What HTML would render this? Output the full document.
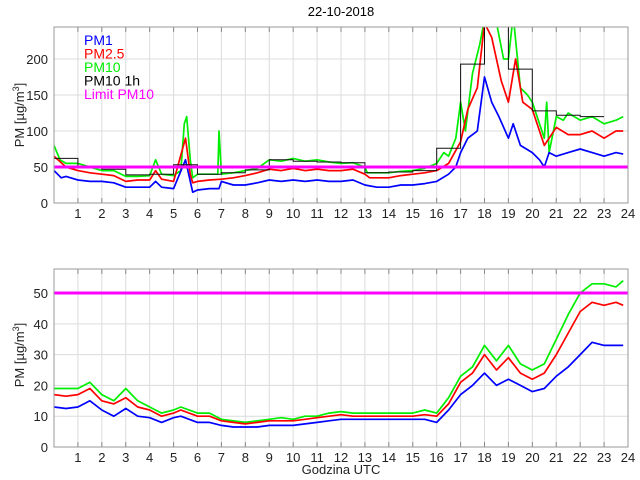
<!DOCTYPE html>
<html><head><meta charset="utf-8"><style>
body{margin:0;background:#fff}
svg{display:block;font-family:"Liberation Sans",sans-serif}
</style></head><body>
<svg id="c" width="640" height="480" viewBox="0 0 640 480"></svg>
<script>
// ---- data ----
const hourTicks=[1,2,3,4,5,6,7,8,9,10,11,12,13,14,15,16,17,18,19,20,21,22,23,24];
const topYTicks=[0,50,100,150,200];
const botYTicks=[0,10,20,30,40,50];
const limitPM10=50;
const pm10HourlyStart=[0,1,2,3,4,5,6,7,8,9,10,11,12,13,14,15,16,17,18,19,20,21,22];
const pm10Hourly=[62,49,47,39,40,53,40,42,46,60,58,57,56,42,43,45,76,193,260,186,128,122,120];
const topT10=[0,0.25,0.5,0.75,1,1.5,2,2.5,3,3.5,4,4.25,4.5,5,5.3,5.45,5.55,5.7,5.8,6,6.5,6.85,6.9,7,7.5,8,8.5,9,9.5,10,10.5,11,11.5,12,12.5,13,13.1,13.5,14,14.5,15,15.5,16,16.3,16.5,16.8,17,17.2,17.5,17.8,18,18.5,18.8,19,19.2,19.5,19.8,20,20.3,20.5,20.6,20.7,21,21.3,21.5,22,22.5,23,23.5,23.8];
const topPM10=[80,60,55,55,55,50,45,45,37,37,38,60,40,38,45,110,120,60,35,40,40,40,100,40,42,45,48,60,58,62,58,60,57,55,56,50,42,42,42,44,45,48,55,70,65,90,140,100,180,220,255,250,200,200,260,160,150,140,110,90,140,70,120,115,125,115,120,110,115,120];
const topT25=[0,0.5,1,1.5,2,2.5,3,3.5,4,4.25,4.5,5,5.5,5.7,5.8,6,6.5,7,7.5,8,8.5,9,9.5,10,10.5,11,11.5,12,12.5,13,13.2,13.5,14,14.5,15,15.5,16,16.5,17,17.3,17.7,18,18.3,18.7,19,19.3,19.6,20,20.3,20.5,20.7,21,21.5,22,22.5,23,23.5,23.8];
const topPM25=[65,50,45,42,40,38,30,32,32,45,33,30,90,40,28,30,32,33,35,38,42,47,45,48,45,47,45,45,47,40,35,35,35,38,40,42,45,55,85,130,160,250,230,170,140,200,140,130,100,80,90,105,95,95,100,90,100,100];
const topT1=[0,0.3,0.5,1,1.5,2,2.5,3,3.5,4,4.25,4.5,5,5.5,5.7,5.8,6,6.5,6.9,7,7.5,8,8.5,9,9.5,10,10.5,11,11.5,12,12.5,13,13.5,14,14.5,15,15.5,16,16.5,16.8,17,17.3,17.7,18,18.3,18.6,19,19.2,19.5,20,20.3,20.5,20.7,21,21.5,22,22.5,23,23.5,23.8];
const topPM1=[45,35,37,32,30,30,28,22,22,22,30,22,20,60,30,15,18,20,20,30,25,25,28,32,30,32,30,32,30,30,32,25,22,22,25,25,27,30,40,50,70,90,100,175,140,120,90,110,80,70,60,50,70,65,70,75,70,65,70,68];
const botT=[0,0.5,1,1.5,2,2.5,3,3.5,4,4.5,5,5.3,6,6.5,7,7.5,8,8.5,9,9.5,10,10.5,11,11.5,12,12.5,13,13.5,14,14.5,15,15.5,16,16.5,17,17.5,18,18.5,19,19.5,20,20.5,21,21.5,22,22.5,23,23.5,23.8];
const botPM10=[19,19,19,21,17,15,19,15,13,11,12,13,11,11,9,8.5,8,8.5,9,9.5,9,10,10,11,11.5,11,11,11,11,11,11,12,11,16,23,26,33,28,33,27,25,27,35,43,50,53,53,52,54];
const botPM25=[17,16.5,17,19,15,14,16,13,12,10,11,12,10,10,8.5,8,7.5,8,8.5,8.5,8.5,9,9.5,10,10.5,10,10,10,10,10,10,10.5,10,14,21,24,30,25,29,24,22,24,30,37,44,47,46,47,46];
const botPM1=[13,12.5,13,15,12,10,12.5,10,9.5,8,9.5,10,8,8,7,6.5,6.5,6.5,7,7,7,7.5,8,8.5,9,9,9,9,9,9,9,9,8,12,17,20,24,20,22,20,18,19,23,26,30,34,33,33,33];

// ---- layout ----
const NS="http://www.w3.org/2000/svg";
const svg=document.getElementById('c');
function mk(tag,attrs,parent){const e=document.createElementNS(NS,tag);for(const k in attrs)e.setAttribute(k,attrs[k]);(parent||svg).appendChild(e);return e;}
const X0=54,X1=628;
const xS=h=>X0+(X1-X0)*h/24;
function axes(id,top,bot,ymax,yticks){
  const yS=v=>bot-(bot-top)*v/ymax;
  const g=mk('g',{});
  
  
  hourTicks.forEach(h=>{if(h<24){const l=mk('line',{x1:xS(h),x2:xS(h),y1:top,y2:bot,stroke:'#dcdcdc','stroke-width':1},g);
    
    }});
  yticks.forEach(v=>{if(v>0){const l=mk('line',{x1:X0,x2:X1,y1:yS(v),y2:yS(v),stroke:'#dcdcdc','stroke-width':1},g);
    
    }});
  hourTicks.forEach(h=>{const t=mk('text',{x:xS(h),y:bot+15,'text-anchor':'middle','font-size':13,fill:'#222'},g);t.textContent=h;
    
    
    mk('line',{x1:xS(h),x2:xS(h),y1:bot,y2:bot-5,stroke:'#888'},g);mk('line',{x1:xS(h),x2:xS(h),y1:top,y2:top+5,stroke:'#888'},g);});
  yticks.forEach(v=>{const t=mk('text',{x:X0-6,y:yS(v)+5,'text-anchor':'end','font-size':13,fill:'#222'},g);t.textContent=v;
    
    });
  const cp=mk('clipPath',{id:'cp'+id});mk('rect',{x:X0,y:top,width:X1-X0,height:bot-top},cp);
  const plot=mk('g',{'clip-path':'url(#cp'+id+')'});
  return {yS,plot,g,top,bot};
}
function line(ax,ts,vs,color,name,w){
  const d=ts.map((t,i)=>(i?'L':'M')+xS(t).toFixed(1)+','+ax.yS(vs[i]).toFixed(1)).join('');
  const p=mk('path',{d,fill:'none',stroke:color,'stroke-width':w||1.7,'stroke-linejoin':'round'},ax.plot);
  
  
}
function box(ax){const r=mk('rect',{x:X0,y:ax.top,width:X1-X0,height:ax.bot-ax.top,fill:'none',stroke:'#9a9a9a','stroke-width':1});
  
  }
function limit(ax){const l=mk('line',{x1:X0,x2:X1,y1:ax.yS(limitPM10),y2:ax.yS(limitPM10),stroke:'#ff00ff','stroke-width':3},ax.plot);
  
  }

// title
const title=mk('text',{x:341,y:16,'text-anchor':'middle','font-size':13,fill:'#000'});title.textContent='22-10-2018';



// top
const A=axes('top',27,203,244.5,topYTicks);
line(A,topT10,topPM10,'#00ee00','pm10-top-series');
line(A,topT25,topPM25,'#ff0000','pm25-top-series');
line(A,topT1,topPM1,'#0000ff','pm1-top-series');
{let d='';pm10HourlyStart.forEach((h,i)=>{d+=(i?'L':'M')+xS(h).toFixed(1)+','+A.yS(pm10Hourly[i]).toFixed(1)+'L'+xS(h+1).toFixed(1)+','+A.yS(pm10Hourly[i]).toFixed(1);});
 const p=mk('path',{d,fill:'none',stroke:'#111','stroke-width':1},A.plot);
 
 }
limit(A);box(A);

// bottom
const B=axes('bot',269,447,57.8,botYTicks);
line(B,botT,botPM10,'#00ee00','pm10-bottom-series');
line(B,botT,botPM25,'#ff0000','pm25-bottom-series');
line(B,botT,botPM1,'#0000ff','pm1-bottom-series');
limit(B);box(B);

// y titles
[[115,'top'],[355,'bottom']].forEach(([cy,n])=>{
  const t=mk('text',{x:0,y:0,transform:`translate(24,${cy}) rotate(-90)`,'text-anchor':'middle','font-size':13,fill:'#222'});
  t.innerHTML='PM [µg/m<tspan dy="-5" font-size="9">3</tspan><tspan dy="5">]</tspan>';
  
  
});
const xt=mk('text',{x:341,y:474,'text-anchor':'middle','font-size':13,fill:'#222'});xt.textContent='Godzina UTC';



// legend
const legend=[['PM1','#0000ff'],['PM2.5','#ff0000'],['PM10','#00ee00'],['PM10 1h','#000'],['Limit PM10','#ff00ff']];
legend.forEach(([s,c],i)=>{const t=mk('text',{x:84,y:45+i*13.5,'font-size':14,fill:c});t.textContent=s;
  
  });
</script>
</body></html>
